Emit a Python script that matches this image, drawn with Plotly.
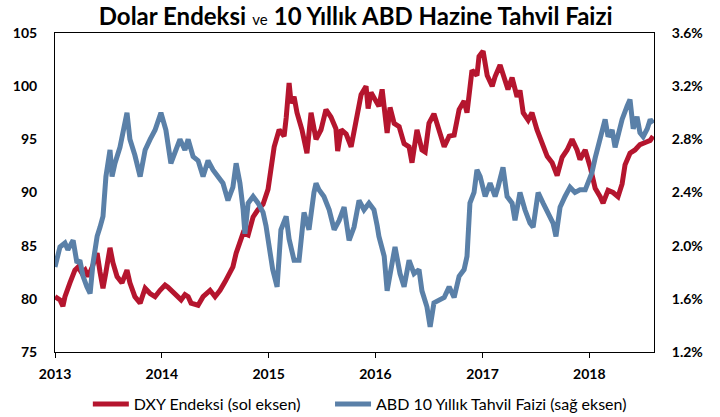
import plotly.graph_objects as go

# DXY (sol eksen)
dxy_tarih = [
    "2013-01-01", "2013-01-18", "2013-01-28", "2013-02-04", "2013-02-21", "2013-03-10", "2013-03-21",
    "2013-04-03", "2013-04-14", "2013-04-24", "2013-05-07", "2013-05-25", "2013-06-04", "2013-06-14",
    "2013-06-24", "2013-07-08", "2013-07-18", "2013-08-01", "2013-08-18", "2013-09-04", "2013-09-14",
    "2013-10-01", "2013-10-19", "2013-11-05", "2013-11-22", "2013-12-09", "2013-12-26",
    "2014-01-12", "2014-01-22", "2014-02-01", "2014-02-15", "2014-03-08", "2014-03-21", "2014-04-01",
    "2014-04-11", "2014-05-05", "2014-05-22", "2014-06-08", "2014-06-15", "2014-07-02", "2014-07-19",
    "2014-08-05", "2014-08-22", "2014-09-01", "2014-09-12", "2014-09-25", "2014-10-06", "2014-10-23",
    "2014-11-09", "2014-11-26", "2014-12-13", "2014-12-30",
    "2015-01-09", "2015-01-20", "2015-02-06", "2015-02-23", "2015-03-02", "2015-03-12", "2015-03-19",
    "2015-03-29", "2015-04-08", "2015-04-25", "2015-05-12", "2015-05-26", "2015-06-12", "2015-06-29",
    "2015-07-16", "2015-08-02", "2015-08-19", "2015-08-25", "2015-09-06", "2015-09-23", "2015-10-10",
    "2015-10-27", "2015-11-13", "2015-11-30", "2015-12-07", "2015-12-17", "2015-12-31",
    "2016-01-13", "2016-01-24", "2016-02-03", "2016-02-10", "2016-02-20", "2016-03-05", "2016-03-22",
    "2016-04-08", "2016-04-25", "2016-05-05", "2016-05-22", "2016-06-08", "2016-06-19", "2016-07-02",
    "2016-07-19", "2016-08-06", "2016-08-23", "2016-09-09", "2016-09-26", "2016-10-13", "2016-10-30",
    "2016-11-09", "2016-11-26", "2016-12-13", "2016-12-20",
    "2017-01-03", "2017-01-17", "2017-02-03", "2017-02-13", "2017-03-02", "2017-03-19", "2017-03-29",
    "2017-04-12", "2017-04-29", "2017-05-09", "2017-05-20", "2017-06-06", "2017-06-19", "2017-07-06",
    "2017-07-24", "2017-08-10", "2017-08-27", "2017-09-13", "2017-09-30", "2017-10-17", "2017-11-03",
    "2017-11-20", "2017-11-30", "2017-12-18",
    "2018-01-04", "2018-01-21", "2018-02-07", "2018-02-17", "2018-03-06", "2018-03-23", "2018-04-09",
    "2018-04-23", "2018-05-03", "2018-05-20", "2018-06-06", "2018-06-23", "2018-07-11", "2018-07-28",
    "2018-08-07",
]
dxy = [
    80.2, 79.9, 79.3, 80.2, 81.5, 82.7, 83.0,
    82.4, 82.7, 82.1, 82.9, 84.3, 82.5, 81.0,
    82.5, 84.8, 83.4, 82.1, 81.5, 82.7, 81.5,
    80.2, 79.6, 81.0, 80.5, 80.2, 80.8,
    81.3, 81.1, 80.8, 80.5, 79.9, 80.4, 80.2,
    79.6, 79.4, 80.2, 80.6, 80.8, 80.2, 80.8,
    81.6, 82.4, 83.0, 84.3, 85.3, 86.2, 86.0,
    87.7, 88.4, 88.9, 90.3,
    92.0, 94.3, 95.9, 95.3, 97.0, 100.3, 98.4,
    99.0, 97.5, 95.9, 93.7, 97.5, 95.0, 95.9,
    97.8, 97.1, 96.0, 93.9, 95.9, 95.5, 94.3,
    97.0, 99.2, 100.0, 97.9, 99.4, 98.7,
    98.1, 99.7, 96.5, 95.6, 98.0, 96.5, 96.2,
    94.6, 94.3, 92.8, 95.9, 94.0, 93.8, 96.5,
    97.4, 95.6, 94.3, 95.3, 95.4, 97.8, 98.6,
    97.5, 101.5, 101.0, 102.8,
    103.3, 101.0, 100.0, 100.9, 102.0, 100.5, 99.7,
    100.8, 99.0, 99.6, 97.5, 96.8, 97.5, 95.9,
    94.7, 93.4, 92.8, 91.6, 93.3, 94.0, 95.0,
    94.0, 93.1, 94.0,
    92.4, 90.4, 89.6, 89.0, 90.2, 90.0, 89.6,
    90.8, 92.6, 93.7, 94.0, 94.5, 94.7, 94.9,
    95.3,
]

# ABD 10 yıllık tahvil faizi, % (sağ eksen)
faiz_tarih = [
    "2013-01-01", "2013-01-18", "2013-02-04", "2013-02-14", "2013-03-04", "2013-03-17", "2013-03-27",
    "2013-04-07", "2013-04-20", "2013-05-01", "2013-05-11", "2013-05-25", "2013-06-04", "2013-06-14",
    "2013-06-24", "2013-07-08", "2013-07-15", "2013-07-25", "2013-08-11", "2013-08-21", "2013-09-04",
    "2013-09-14", "2013-10-01", "2013-10-19", "2013-11-05", "2013-11-22", "2013-12-09", "2013-12-29",
    "2014-01-15", "2014-02-01", "2014-02-19", "2014-03-04", "2014-03-21", "2014-04-01", "2014-04-18",
    "2014-05-05", "2014-05-22", "2014-06-08", "2014-06-25", "2014-07-12", "2014-07-29", "2014-08-15",
    "2014-09-01", "2014-09-12", "2014-09-25", "2014-10-06", "2014-10-12", "2014-10-23", "2014-11-09",
    "2014-11-26", "2014-12-13", "2014-12-23",
    "2015-01-05", "2015-01-15", "2015-01-30", "2015-02-12", "2015-03-02", "2015-03-12", "2015-03-29",
    "2015-04-15", "2015-05-02", "2015-05-19", "2015-06-05", "2015-06-12", "2015-06-22", "2015-07-09",
    "2015-07-27", "2015-08-13", "2015-08-30", "2015-09-16", "2015-10-03", "2015-10-20", "2015-11-06",
    "2015-11-23", "2015-12-10", "2015-12-27",
    "2016-01-07", "2016-01-13", "2016-01-31", "2016-02-10", "2016-02-27", "2016-03-08", "2016-03-25",
    "2016-04-08", "2016-04-25", "2016-05-12", "2016-05-29", "2016-06-08", "2016-06-25", "2016-07-06",
    "2016-07-19", "2016-08-06", "2016-08-23", "2016-09-09", "2016-09-26", "2016-10-13", "2016-10-30",
    "2016-11-09", "2016-11-19", "2016-12-03", "2016-12-13", "2016-12-24",
    "2017-01-10", "2017-01-27", "2017-02-13", "2017-02-23", "2017-03-12", "2017-03-26", "2017-04-12",
    "2017-04-22", "2017-05-09", "2017-05-26", "2017-06-12", "2017-06-23", "2017-07-10", "2017-07-27",
    "2017-08-13", "2017-08-30", "2017-09-09", "2017-09-23", "2017-10-10", "2017-10-27", "2017-11-13",
    "2017-11-30", "2017-12-18", "2017-12-28",
    "2018-01-10", "2018-01-21", "2018-01-28", "2018-02-14", "2018-02-24", "2018-03-06", "2018-03-20",
    "2018-03-30", "2018-04-09", "2018-04-23", "2018-05-10", "2018-05-20", "2018-05-31", "2018-06-13",
    "2018-06-23", "2018-07-04", "2018-07-18", "2018-07-28", "2018-08-07",
]
faiz = [
    1.84, 1.99, 2.02, 1.97, 2.04, 1.87, 1.89,
    1.77, 1.69, 1.64, 1.87, 2.07, 2.14, 2.22,
    2.52, 2.72, 2.52, 2.62, 2.74, 2.87, 3.00,
    2.80, 2.68, 2.52, 2.72, 2.80, 2.87, 3.00,
    2.87, 2.62, 2.74, 2.80, 2.72, 2.80, 2.67,
    2.64, 2.52, 2.64, 2.57, 2.52, 2.47, 2.34,
    2.44, 2.62, 2.47, 2.27, 2.09, 2.32, 2.37,
    2.32, 2.25, 2.15,
    1.95, 1.82, 1.69, 2.12, 2.22, 2.05, 1.89,
    1.89, 2.25, 2.12, 2.40, 2.47, 2.42, 2.37,
    2.27, 2.12, 2.19, 2.29, 2.04, 2.14, 2.34,
    2.27, 2.32, 2.27,
    2.15, 2.07, 1.92, 1.66, 1.87, 1.99, 1.79,
    1.69, 1.89, 1.79, 1.82, 1.66, 1.54, 1.39,
    1.57, 1.59, 1.61, 1.69, 1.61, 1.77, 1.82,
    1.92, 2.32, 2.40, 2.57, 2.52,
    2.37, 2.47, 2.37, 2.44, 2.59, 2.37, 2.32,
    2.19, 2.40, 2.27, 2.17, 2.14, 2.40, 2.32,
    2.25, 2.17, 2.07, 2.29, 2.37, 2.44, 2.40,
    2.42, 2.42, 2.47,
    2.55, 2.66, 2.72, 2.90, 2.95, 2.82, 2.87,
    2.74, 2.82, 2.95, 3.05, 3.10, 2.88, 2.97,
    2.85, 2.82, 2.88, 2.95, 2.92,
]

yil_tick = ["2013-01-01", "2014-01-01", "2015-01-01", "2016-01-01", "2017-01-01", "2018-01-01"]
yil_etiket = ["2013", "2014", "2015", "2016", "2017", "2018"]

KIRMIZI = "#B5152E"
MAVI = "#5A80A8"
FONT = "Lato"
BOSLUK = "\u00a0" * 6  # lejant öğeleri arasındaki boşluk

fig = go.Figure()
fig.add_trace(go.Scatter(x=dxy_tarih, y=dxy, mode="lines", name="DXY Endeksi (sol eksen)" + BOSLUK,
                         line=dict(color=KIRMIZI, width=5)))
fig.add_trace(go.Scatter(x=faiz_tarih, y=faiz, mode="lines", name="ABD 10 Yıllık Tahvil Faizi (sağ eksen)",
                         line=dict(color=MAVI, width=5), yaxis="y2"))

kalin_font = dict(family=FONT, size=14, color="black", weight="bold")

fig.update_layout(
    width=720, height=417,
    paper_bgcolor="white", plot_bgcolor="white",
    margin=dict(l=55, r=66, t=33, b=65, autoexpand=False),
    font=dict(family=FONT, color="black"),
    title=dict(
        text="<b>Dolar Endeksi</b> <span style='font-size:15px'>ve</span> <b>10 Yıllık ABD Hazine Tahvil Faizi</b>",
        font=dict(family=FONT, size=24, color="black"),
        x=0.494, xanchor="center", y=0.96, yanchor="middle",
    ),
    xaxis=dict(
        type="date", range=["2013-01-01", "2018-08-10"],
        tickvals=yil_tick, ticktext=yil_etiket,
        ticks="outside", ticklen=5, tickcolor="black", tickwidth=1,
        ticklabelstandoff=4,
        showgrid=False, zeroline=False, automargin=False,
        showline=True, linecolor="black", linewidth=1, mirror=True,
        tickfont=kalin_font,
    ),
    yaxis=dict(
        range=[75, 105], dtick=5, tickformat="d",
        showgrid=False, zeroline=False, ticks="", automargin=False,
        showline=True, linecolor="black", linewidth=1,
        tickfont=kalin_font,
        ticklabelstandoff=14,
    ),
    yaxis2=dict(
        range=[1.2, 3.6], dtick=0.4, tickformat=".1f", ticksuffix="%",
        overlaying="y", side="right",
        showgrid=False, zeroline=False, ticks="", automargin=False,
        showline=True, linecolor="black", linewidth=1,
        tickfont=kalin_font,
        ticklabelstandoff=14,
    ),
    legend=dict(
        orientation="h", xref="container",
        x=0.122, xanchor="left", y=-0.163, yanchor="middle",
        font=dict(family=FONT, size=16, color="black"),
        itemwidth=36,
        bgcolor="rgba(0,0,0,0)",
    ),
    showlegend=True,
)

# sayfanın varsayılan 8px gövde boşluğunu kaldır
fig.write_html("out.html", config={"displayModeBar": False},
               post_script="document.body.style.margin='0px';")
